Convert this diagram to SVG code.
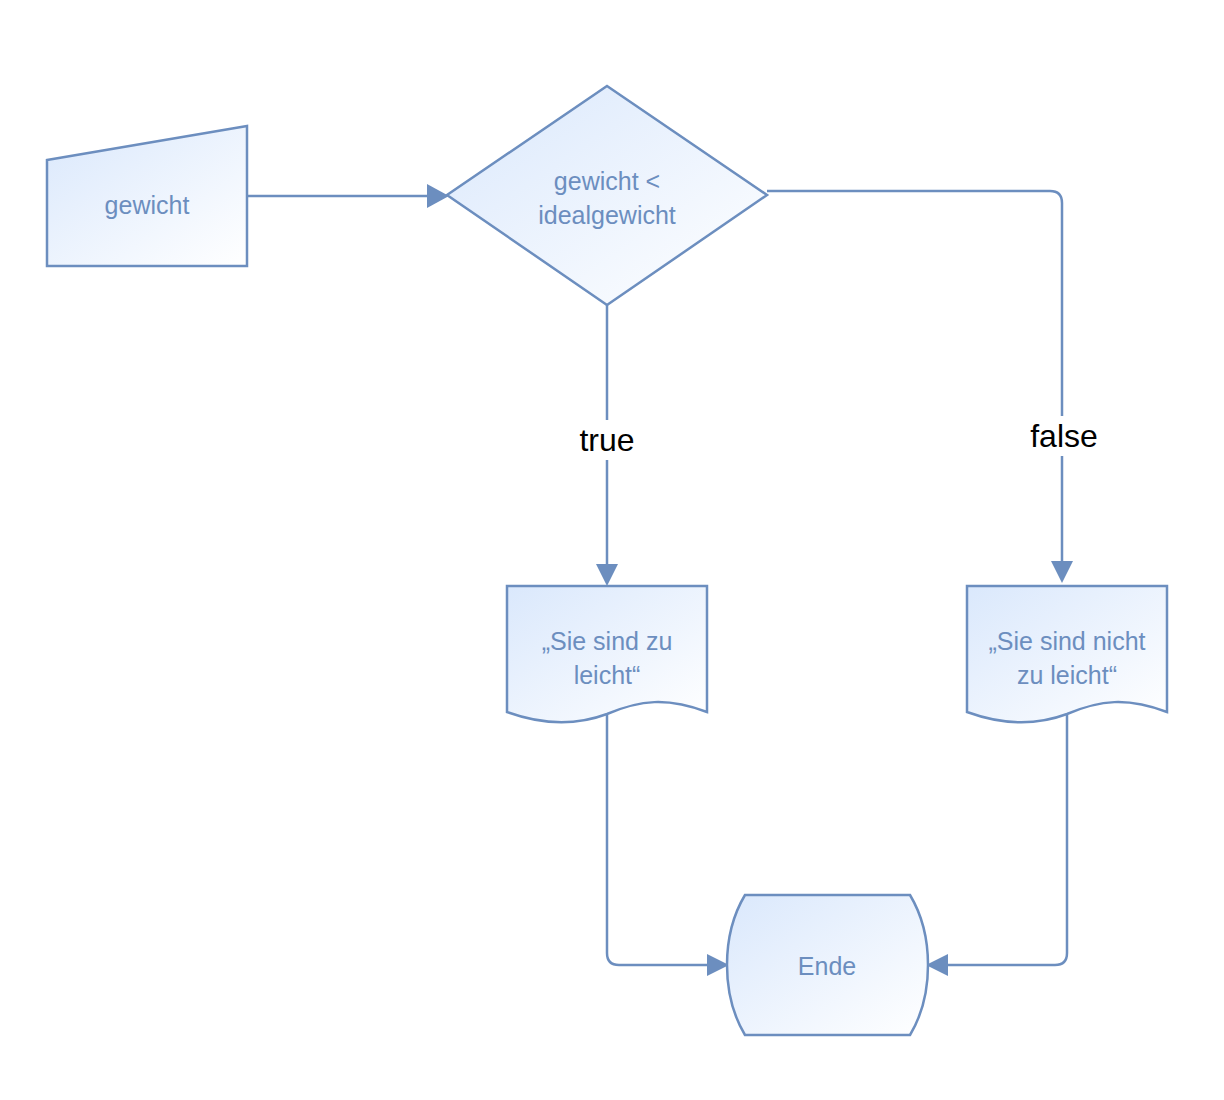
<svg xmlns="http://www.w3.org/2000/svg" width="1224" height="1100" viewBox="0 0 1224 1100">
<style>
.s{fill:url(#g);stroke:#6c8ebf;stroke-width:2.5}
.t{font-family:"Liberation Sans",Arial,sans-serif;font-size:25px;fill:#6c8ebf;text-anchor:middle}
.c{fill:none;stroke:#6c8ebf;stroke-width:2.5}
.l{font-family:"Liberation Sans",Arial,sans-serif;font-size:32px;fill:#000;text-anchor:middle}
</style>
<defs>
<linearGradient id="g" x1="0" y1="0" x2="1" y2="1"><stop offset="0" stop-color="#dae8fc"/><stop offset="1" stop-color="#ffffff"/></linearGradient>
<marker id="a" viewBox="0 0 10 10" refX="9" refY="5" markerWidth="8" markerHeight="8" markerUnits="userSpaceOnUse" orient="auto" style="overflow:visible"><path d="M0,0 L10,5 L0,10 Z" fill="#6c8ebf" transform="scale(2.2) translate(-5.5,-2.7)"/></marker>
</defs>
<rect width="1224" height="1100" fill="#fff"/>
<g id="connectors">
<path class="c" d="M247,196 H430"/><path d="M427,184 L449,196 L427,208 Z" fill="#6c8ebf"/>
<path class="c" d="M767,191 H1050 Q1062,191 1062,203 V565"/><path d="M1051,561 L1062,583 L1073,561 Z" fill="#6c8ebf"/>
<path class="c" d="M607,305 V565"/><path d="M596,564 L607,586 L618,564 Z" fill="#6c8ebf"/>
<path class="c" d="M607,715 V953 Q607,965 619,965 H710"/><path d="M707,954 L729,965 L707,976 Z" fill="#6c8ebf"/>
<path class="c" d="M1067,715 V953 Q1067,965 1055,965 H946"/><path d="M948,954 L926,965 L948,976 Z" fill="#6c8ebf"/>
<rect x="572" y="420" width="70" height="40" fill="#fff"/><text class="l" x="607" y="451">true</text>
<rect x="1022" y="416" width="84" height="40" fill="#fff"/><text class="l" x="1064" y="447">false</text>
</g>
<g id="gewicht"><path class="s" d="M47,160 L247,126 L247,266 L47,266 Z"/><text class="t" x="147" y="214">gewicht</text></g>
<g id="decision"><path class="s" d="M607,86 L767,195 L607,305 L447,195 Z"/><text class="t" x="607" y="190">gewicht &lt;</text><text class="t" x="607" y="224">idealgewicht</text></g>
<g id="doc1"><path class="s" d="M507,586 H707 V712 C667,697 640,700 607,714 C575,726 540,724 507,712 Z"/><text class="t" x="607" y="650">„Sie sind zu</text><text class="t" x="607" y="684">leicht“</text></g>
<g id="doc2"><path class="s" d="M967,586 H1167 V712 C1127,697 1100,700 1067,714 C1035,726 1000,724 967,712 Z"/><text class="t" x="1067" y="650">„Sie sind nicht</text><text class="t" x="1067" y="684">zu leicht“</text></g>
<g id="ende"><path class="s" d="M745,895 H910 Q928,925 928,965 Q928,1005 910,1035 H745 Q727,1005 727,965 Q727,925 745,895 Z"/><text class="t" x="827" y="975">Ende</text></g>
</svg>
